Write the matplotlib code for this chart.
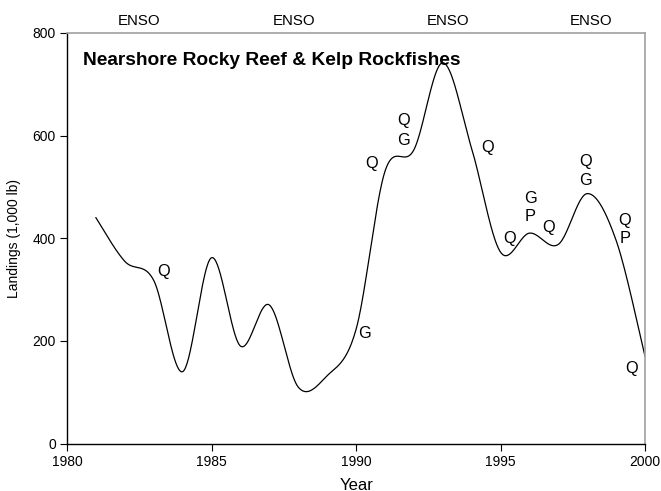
import numpy as np
import matplotlib
matplotlib.use("Agg")
import matplotlib.pyplot as plt
from matplotlib.transforms import offset_copy

plt.rcParams['font.family'] = ['Liberation Sans', 'DejaVu Sans']

years = [1981, 1982, 1983, 1984, 1985, 1986, 1987, 1988, 1989, 1990,
         1991, 1992, 1993, 1994, 1995, 1996, 1997, 1998, 1999, 2000]
landings = [440, 355, 318, 140, 362, 190, 270, 110, 132, 222,
            530, 572, 742, 575, 373, 410, 388, 487, 396, 170]

# annotation letters (text, year, value)
notes_text = ["Q", "G", "Q", "Q", "G", "Q", "Q", "G", "P", "Q", "Q", "G", "Q", "P", "Q"]
notes_x = [1983.33, 1990.31, 1990.54, 1991.66, 1991.66, 1994.56, 1995.30,
           1996.04, 1996.04, 1996.68, 1997.93, 1997.93, 1999.30, 1999.30, 1999.54]
notes_y = [335, 214, 545, 629, 590, 576, 399, 478, 442, 421, 550, 513, 434, 399, 146]

enso_x = [1982.5, 1987.85, 1993.2, 1998.15]
enso_label = "ENSO"

title = "Nearshore Rocky Reef & Kelp Rockfishes"
xticks = [1980, 1985, 1990, 1995, 2000]
yticks = [0, 200, 400, 600, 800]


def excel_smooth(x, y, n=40):
    x = np.asarray(x, float)
    y = np.asarray(y, float)
    P = np.column_stack([x, y])
    pts = []
    for i in range(len(P) - 1):
        p0 = P[i - 1] if i > 0 else P[i]
        p1 = P[i]
        p2 = P[i + 1]
        p3 = P[i + 2] if i + 2 < len(P) else P[i + 1]
        c1 = p1 + (p2 - p0) / 6.0
        c2 = p2 - (p3 - p1) / 6.0
        t = np.linspace(0, 1, n)[:, None]
        seg = ((1 - t) ** 3) * p1 + 3 * ((1 - t) ** 2) * t * c1 + 3 * (1 - t) * t ** 2 * c2 + t ** 3 * p2
        pts.append(seg if i == 0 else seg[1:])
    pts = np.vstack(pts)
    return pts[:, 0], pts[:, 1]


fig = plt.figure(figsize=(6.61, 4.91), dpi=100)
ax = fig.add_axes([67 / 661, (491 - 443.5) / 491, (645 - 67) / 661, (443.5 - 33) / 491])

sx, sy = excel_smooth(years, landings)
ax.plot(sx, sy, color='black', lw=0.9)

ax.set_xlim(1980, 2000)
ax.set_ylim(0, 800)
ax.set_xticks(xticks)
ax.set_yticks(yticks)
ax.tick_params(direction='out', length=5, width=0.8, labelsize=10, colors='black', pad=3)

for s in ['left', 'bottom']:
    ax.spines[s].set_color('black')
    ax.spines[s].set_linewidth(1.0)
for s in ['top', 'right']:
    ax.spines[s].set_color('#a0a0a0')
    ax.spines[s].set_linewidth(1.2)

ax.set_ylabel("Landings (1,000 lb)", fontsize=10, labelpad=8)
fig.text(357 / 661, 1.5 / 491, "Year", fontsize=12, ha='center', va='baseline')

ax.text(1980.55, 747, title, fontsize=13.8, fontweight='bold', ha='left', va='center')

for t, x, y in zip(notes_text, notes_x, notes_y):
    ax.text(x, y, t, fontsize=11.8, ha='center', va='center')

enso_tr = offset_copy(ax.get_xaxis_transform(), fig=fig, x=0, y=5.5, units='points')
for x in enso_x:
    ax.text(x, 1.0, enso_label, transform=enso_tr, fontsize=10.8,
            ha='center', va='baseline')

fig.savefig("out.png", dpi=100)
